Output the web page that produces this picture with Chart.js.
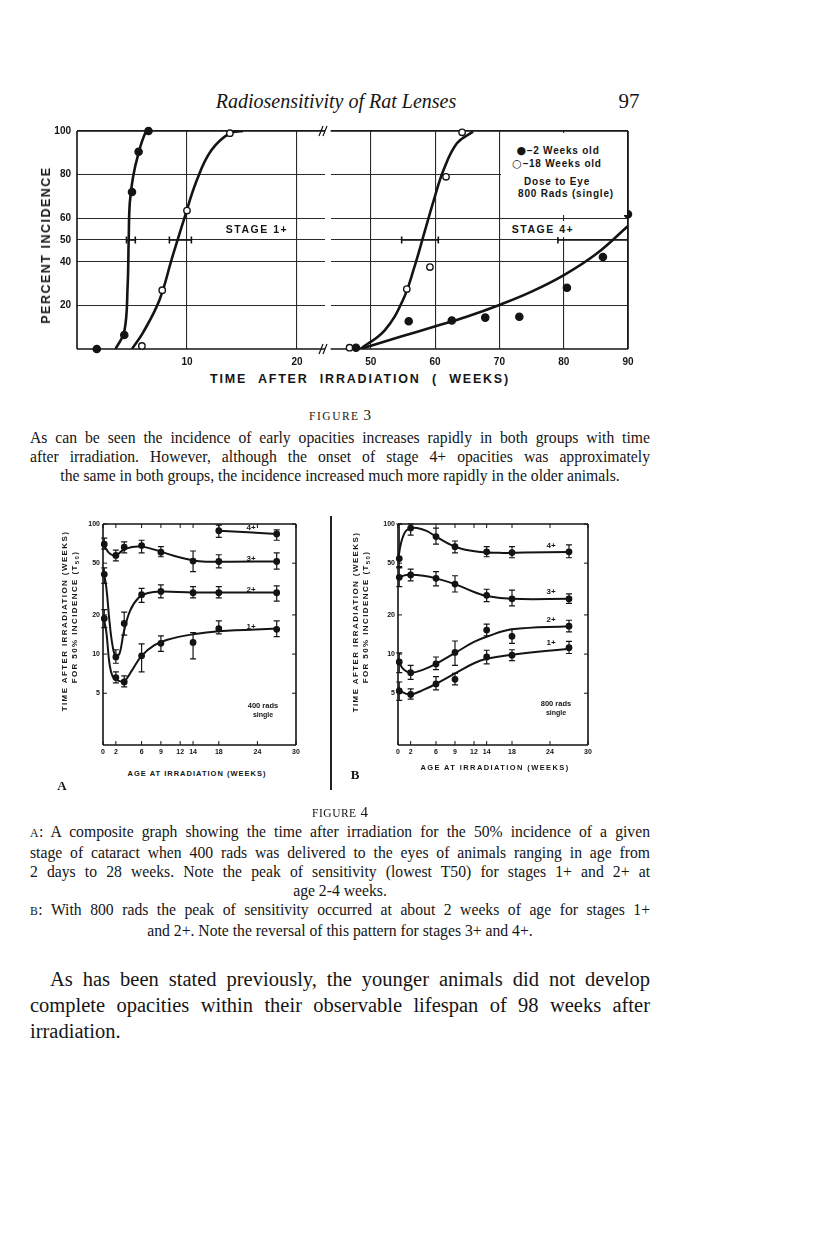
<!DOCTYPE html>
<html>
<head>
<meta charset="utf-8">
<title>Radiosensitivity of Rat Lenses</title>
<script src="https://cdn.jsdelivr.net/npm/chart.js@4.4.1/dist/chart.umd.min.js"></script>
<style>
body { margin: 0; background: #fff; }
#page { position: relative; width: 816px; height: 1246px; overflow: hidden; background: #fff; color: #151515; }
canvas { position: absolute; }
.t { position: absolute; white-space: nowrap; transform: translate(-50%, -50%); }
.v { position: absolute; white-space: nowrap; transform: translate(-50%, -50%) rotate(-90deg); }
.sans { font-family: "Liberation Sans", Arial, sans-serif; font-weight: bold; }
.serif { font-family: "Liberation Serif", "Times New Roman", serif; }
.para { position: absolute; left: 30px; width: 620px; font-family: "Liberation Serif", serif; }
.j { text-align: justify; text-align-last: justify; }
.m { text-align: center; }
.sc { font-size: 0.75em; letter-spacing: 0.5px; }
.dot { font-family: "DejaVu Sans", sans-serif; font-size: 11px; font-weight: normal; }
</style>
</head>
<body>
<div id="page">
  <div class="t serif" style="left:336px;top:101px;font-size:20px;font-style:italic;">Radiosensitivity of Rat Lenses</div>
  <div class="t serif" style="left:629px;top:101px;font-size:21px;">97</div>

  <canvas id="fig3a" width="315" height="248" style="left:20px;top:121px"></canvas>
  <canvas id="fig3b" width="315" height="248" style="left:325px;top:121px"></canvas>

  <div class="v sans" style="left:46px;top:245px;font-size:12.5px;letter-spacing:1.5px;">PERCENT INCIDENCE</div>
  <div class="t sans" style="left:360px;top:379px;font-size:12.5px;letter-spacing:1.8px;word-spacing:6px;">TIME AFTER IRRADIATION ( WEEKS)</div>
  <div class="t sans" style="left:257px;top:229px;font-size:10.5px;letter-spacing:1.5px;">STAGE 1+</div>
  <div class="t sans" style="left:543px;top:229px;font-size:10.5px;letter-spacing:1.5px;background:#fff;padding:2px 4px;">STAGE 4+</div>
  <div style="position:absolute;left:501px;top:133px;width:126px;height:82px;background:#fff;"></div>
  <div class="t sans" style="left:558px;top:150px;font-size:10px;letter-spacing:0.8px;"><span class="dot">●</span>–2 Weeks old</div>
  <div class="t sans" style="left:557px;top:163px;font-size:10px;letter-spacing:0.8px;"><span class="dot">○</span>–18 Weeks old</div>
  <div class="t sans" style="left:557px;top:181px;font-size:10px;letter-spacing:0.8px;">Dose to Eye</div>
  <div class="t sans" style="left:566px;top:193px;font-size:10px;letter-spacing:0.8px;">800 Rads (single)</div>

  <div class="t serif" style="left:340px;top:415px;font-size:15px;"><span style="font-size:11.5px;letter-spacing:1.5px;">FIGURE</span> 3</div>
  <div class="para" style="top:428px;font-size:15.7px;line-height:19px;">
    <div class="j">As can be seen the incidence of early opacities increases rapidly in both groups with time</div>
    <div class="j">after irradiation. However, although the onset of stage 4+ opacities was approximately</div>
    <div class="m">the same in both groups, the incidence increased much more rapidly in the older animals.</div>
  </div>

  <canvas id="fig4a" width="260" height="256" style="left:50px;top:512px"></canvas>
  <canvas id="fig4b" width="260" height="256" style="left:345px;top:512px"></canvas>
  <div style="position:absolute;left:330px;top:516px;width:1.5px;height:274px;background:#222;"></div>

  <div class="v sans" style="left:64px;top:621px;font-size:8px;letter-spacing:1.4px;">TIME AFTER IRRADIATION (WEEKS)</div>
  <div class="v sans" style="left:75px;top:617px;font-size:8px;letter-spacing:1.4px;">FOR 50% INCIDENCE (T<sub style="font-size:6px">50</sub>)</div>
  <div class="t sans" style="left:197px;top:773px;font-size:7.5px;letter-spacing:1px;">AGE AT IRRADIATION (WEEKS)</div>
  <div class="t serif" style="left:62px;top:786px;font-size:13px;font-weight:bold;">A</div>
  <div class="t sans" style="left:251px;top:527px;font-size:8px;">4+</div>
  <div class="t sans" style="left:251px;top:558px;font-size:8px;">3+</div>
  <div class="t sans" style="left:251px;top:589px;font-size:8px;">2+</div>
  <div class="t sans" style="left:251px;top:626px;font-size:8px;">1+</div>
  <div class="t sans" style="left:263px;top:705px;font-size:7.5px;">400 rads</div>
  <div class="t sans" style="left:263px;top:714px;font-size:7px;">single</div>

  <div class="v sans" style="left:355px;top:622px;font-size:8px;letter-spacing:1.4px;">TIME AFTER IRRADIATION (WEEKS)</div>
  <div class="v sans" style="left:366px;top:617px;font-size:8px;letter-spacing:1.4px;">FOR 50% INCIDENCE (T<sub style="font-size:6px">50</sub>)</div>
  <div class="t sans" style="left:495px;top:767px;font-size:7.5px;letter-spacing:1.4px;">AGE AT IRRADIATION (WEEKS)</div>
  <div class="t serif" style="left:355px;top:775px;font-size:13px;font-weight:bold;">B</div>
  <div class="t sans" style="left:551px;top:545px;font-size:8px;">4+</div>
  <div class="t sans" style="left:551px;top:591px;font-size:8px;">3+</div>
  <div class="t sans" style="left:551px;top:619px;font-size:8px;">2+</div>
  <div class="t sans" style="left:551px;top:642px;font-size:8px;">1+</div>
  <div class="t sans" style="left:556px;top:703px;font-size:7.5px;">800 rads</div>
  <div class="t sans" style="left:556px;top:712px;font-size:7px;">single</div>

  <div class="t serif" style="left:340px;top:812px;font-size:15px;"><span style="font-size:11.5px;letter-spacing:0.5px;">FIGURE</span> 4</div>
  <div class="para" style="top:822px;font-size:15.7px;line-height:19px;">
    <div class="j"><span class="sc">A</span>: A composite graph showing the time after irradiation for the 50% incidence of a given</div>
    <div class="j">stage of cataract when 400 rads was delivered to the eyes of animals ranging in age from</div>
    <div class="j">2 days to 28 weeks. Note the peak of sensitivity (lowest T50) for stages 1+ and 2+ at</div>
    <div class="m">age 2-4 weeks.</div>
    <div class="j"><span class="sc">B</span>: With 800 rads the peak of sensitivity occurred at about 2 weeks of age for stages 1+</div>
    <div class="m">and 2+. Note the reversal of this pattern for stages 3+ and 4+.</div>
  </div>

  <div class="para" style="top:966px;font-size:20.5px;line-height:26px;">
    <div class="j" style="padding-left:20px;">As has been stated previously, the younger animals did not develop</div>
    <div class="j">complete opacities within their observable lifespan of 98 weeks after</div>
    <div>irradiation.</div>
  </div>
</div>

<script>
// ---- Figure 3: percent incidence vs. weeks after 800 rads ----
const pctTicks = [20, 40, 50, 60, 80, 100];
const weeksTicksLeft = [10, 20];
const weeksTicksRight = [50, 60, 70, 80, 90];

// stage 1+ (left part of the broken axis)
const s1YoungPts = [[1.8, 0], [4.3, 6.4], [5.0, 72], [5.6, 90.5], [6.5, 100]];
const s1OldPts = [[5.9, 1.4], [7.75, 27], [10.0, 63.5], [13.9, 99]];
const s1YoungCurve = [[3.5, 0], [4.3, 8], [4.6, 28.6], [4.7, 50], [4.8, 67], [5.1, 79], [5.6, 90], [6.2, 99], [6.5, 100]];
const s1OldCurve = [[5.0, 0], [6.0, 7.5], [7.5, 22.5], [8.6, 41], [9.7, 59], [10.9, 77.5], [12.2, 91], [13.9, 99], [15.1, 100]];
const t50Young1 = [4.5, 5.3];
const t50Old1 = [8.4, 10.4];

// stage 4+ (right part)
const s4YoungPts = [[47.7, 0.6], [55.9, 12.7], [62.6, 13.1], [67.8, 14.4], [73.1, 14.8], [80.5, 28.1], [86.1, 42.2], [90, 61.8]];
const s4OldPts = [[46.7, 0.6], [55.6, 27.5], [59.2, 37.6], [61.7, 79], [64.2, 99.4]];
const s4YoungCurve = [[48.4, 0], [54.7, 5.7], [59.8, 10.2], [64.9, 14.8], [70, 20.2], [75, 26.3], [80.1, 34], [85.2, 43.9], [90, 56.4]];
const s4OldCurve = [[48.4, 0], [52.2, 8.7], [55.0, 22.5], [56.8, 37.8], [58.3, 53], [59.8, 68.3], [61.3, 82], [63.4, 94.4], [65.9, 99.7]];
const t50Old4 = [54.8, 60.5];
const t50Young4 = [79.1, 90];

// ---- Figure 4: T50 vs age at irradiation ----
const ageTicks = [0, 2, 6, 9, 12, 14, 18, 24, 30];
const t50Ticks = [5, 10, 20, 50, 100];

// A: 400 rads
const ageA = [0.2, 2, 3.3, 6, 9, 14, 18, 27];
const a1Plus = [18.8, 6.6, 6.1, 9.7, 12.1, 12.3, 15.7, 15.5];
const a1Lo = [16, 6.0, 5.6, 7.3, 10.5, 9.2, 14.3, 13.6];
const a1Hi = [22, 7.3, 6.8, 12, 13.8, 14.6, 18, 18];
const a2Plus = [41, 9.5, 17.2, 28.6, 30.3, 29.6, 29.6, 29.6];
const a2Lo = [35, 8.5, 14, 25, 27, 27, 27, 25.5];
const a2Hi = [46, 10.8, 21, 32, 34, 33, 33, 33.5];
const a3Plus = [70, 57.3, 66.3, 68.3, 60.7, 51.9, 51.5, 51.5];
const a3Lo = [64, 52, 60, 60, 56, 43, 46, 45];
const a3Hi = [78, 63, 73, 75, 67, 62, 58, 60];
const ageA4 = [18, 27];
const a4Plus = [88.9, 83.8];
const a4Lo = [79, 75];
const a4Hi = [98, 90];
const a1Curve = [[0, 20], [0.5, 15], [1, 8.5], [1.5, 6.7], [2.2, 6.3], [3.3, 6.2], [4.5, 7.5], [6, 9.7], [8, 11.7], [10, 12.9], [14, 14.2], [18, 15], [27, 15.7]];
const a2Curve = [[0, 45], [0.5, 33], [1, 18], [1.5, 11.5], [2, 9.6], [2.6, 10.2], [3.2, 14.5], [4.2, 21.5], [5.5, 27], [7, 29.5], [9, 30.3], [14, 29.8], [27, 29.8]];
const a3Curve = [[0, 73], [0.5, 64], [1.2, 58.5], [2, 57], [3, 62.5], [4.5, 66.5], [6, 67], [8, 63.5], [11, 57], [14, 52.5], [16, 51.3], [20, 51.3], [27, 51.5]];
const a4Curve = [[18, 88.9], [27, 83.8]];

// B: 800 rads
const ageB = [0.2, 2, 6, 9, 14, 18, 27];
const b1Plus = [5.2, 4.9, 5.9, 6.4, 9.5, 9.8, 11.2];
const b1Lo = [4.4, 4.5, 5.3, 5.8, 8.4, 8.9, 10.1];
const b1Hi = [6.1, 5.4, 6.7, 7.1, 10.7, 10.8, 12.5];
const b2Plus = [8.7, 7.2, 8.4, 10.3, 15.3, 13.7, 16.4];
const b2Lo = [7.2, 6.4, 7.6, 8.2, 13.8, 12.1, 14.8];
const b2Hi = [10.2, 8.2, 9.5, 12.6, 17, 15.5, 18.2];
const b3Plus = [38.9, 40.6, 38.2, 34.5, 28.3, 26.6, 26.6];
const b3Lo = [33, 36.5, 33.5, 30, 25.3, 23.5, 24.5];
const b3Hi = [46, 45, 43, 40, 31.5, 31, 29];
const b4Plus = [54.2, 93, 80, 66.9, 61.1, 60.3, 61.1];
const b4Lo = [47, 82, 70, 60, 56, 55, 55];
const b4Hi = [100, 100, 93, 74, 67, 67, 69];
const b1Curve = [[0, 5.6], [0.7, 5.1], [2, 4.9], [4, 5.3], [6, 5.9], [9, 7.1], [12, 8.5], [14, 9.2], [18, 9.9], [27, 11]];
const b2Curve = [[0, 9.2], [0.7, 7.8], [2, 7.2], [4, 7.6], [6, 8.4], [9, 10.2], [12, 12.4], [14, 13.6], [18, 15.5], [27, 16.4]];
const b3Curve = [[0, 38], [1, 40.3], [2, 40.8], [4, 40], [6, 38.2], [9, 34.5], [12, 30], [14, 28], [18, 26.6], [27, 26.6]];
const b4Curve = [[0, 52], [0.5, 72], [1.2, 88], [2, 93], [3, 93], [4.5, 88.5], [6, 80], [8, 70.5], [10, 64.5], [13, 61], [16, 60], [20, 60.4], [27, 61]];

const INK = '#141414';
const xy = arr => arr.map(([x, y]) => ({x, y}));
const zip = (xs, ys) => xs.map((x, i) => ({x, y: ys[i]}));

function curve(points, w) {
  return {data: xy(points), borderColor: INK, borderWidth: w, pointRadius: 0, tension: 0.4, fill: false};
}
function dots(data, filled, r) {
  return {data, showLine: false, pointRadius: r, pointBackgroundColor: filled ? INK : '#fff',
    pointBorderColor: INK, pointBorderWidth: 1.4, clip: false};
}
function t50Bar(range) {
  return {data: range.map(x => ({x, y: 50})), borderColor: INK, borderWidth: 1.6, pointStyle: 'line',
    pointRotation: 90, pointRadius: 3.5, pointBorderWidth: 1.6, pointBorderColor: INK};
}
function noPad(s) { s.paddingTop = s.paddingBottom = s.paddingLeft = s.paddingRight = 0; }

function frame(opts) {
  return {
    id: 'frame',
    beforeDatasetsDraw(chart) {
      const {ctx, chartArea: a, scales} = chart;
      ctx.save();
      ctx.strokeStyle = INK;
      ctx.lineWidth = opts.width;
      ctx.beginPath();
      if (opts.sides.includes('l')) { ctx.moveTo(a.left, a.top); ctx.lineTo(a.left, a.bottom); }
      if (opts.sides.includes('r')) { ctx.moveTo(a.right, a.top); ctx.lineTo(a.right, a.bottom); }
      if (opts.sides.includes('t')) { ctx.moveTo(a.left, a.top); ctx.lineTo(a.right, a.top); }
      if (opts.sides.includes('b')) { ctx.moveTo(a.left, a.bottom); ctx.lineTo(a.right, a.bottom); }
      ctx.stroke();
      if (opts.inTicks) {
        ctx.lineWidth = 1;
        ctx.beginPath();
        scales.x.ticks.forEach(t => {
          const px = scales.x.getPixelForValue(t.value);
          ctx.moveTo(px, a.bottom); ctx.lineTo(px, a.bottom - opts.inTicks);
          ctx.moveTo(px, a.top); ctx.lineTo(px, a.top + opts.inTicks);
        });
        scales.y.ticks.forEach(t => {
          const py = scales.y.getPixelForValue(t.value);
          ctx.moveTo(a.left, py); ctx.lineTo(a.left + opts.inTicks, py);
          ctx.moveTo(a.right, py); ctx.lineTo(a.right - opts.inTicks, py);
        });
        ctx.stroke();
      }
      if (opts.breakRight) {
        // the "//" marks of the broken time axis
        ctx.lineWidth = 1.2;
        ctx.beginPath();
        [a.top, a.bottom].forEach(yy => {
          ctx.moveTo(a.right - 6, yy + 5); ctx.lineTo(a.right - 2, yy - 5);
          ctx.moveTo(a.right - 2, yy + 5); ctx.lineTo(a.right + 2, yy - 5);
        });
        ctx.stroke();
      }
      ctx.restore();
    }
  };
}

function errorBars(sets) {
  return {
    id: 'errorBars',
    afterDatasetsDraw(chart) {
      const {ctx, scales: {x, y}} = chart;
      ctx.save();
      ctx.strokeStyle = INK;
      ctx.lineWidth = 1.2;
      ctx.beginPath();
      sets.forEach(s => s.age.forEach((age, i) => {
        const px = x.getPixelForValue(age);
        const top = y.getPixelForValue(s.hi[i]);
        const bot = y.getPixelForValue(s.lo[i]);
        ctx.moveTo(px, top); ctx.lineTo(px, bot);
        ctx.moveTo(px - 3, top); ctx.lineTo(px + 3, top);
        ctx.moveTo(px - 3, bot); ctx.lineTo(px + 3, bot);
      }));
      ctx.stroke();
      ctx.restore();
    }
  };
}

const font3 = {family: '"Liberation Sans", Arial, sans-serif', weight: 'bold', size: 10};
const grid3 = {color: '#2a2a2a', lineWidth: 1.1, drawTicks: false};

function fig3(id, xMin, xMax, xTicks, showY, padRight, datasets, frameOpts) {
  return new Chart(document.getElementById(id), {
    type: 'line',
    data: {datasets},
    options: {
      responsive: false, animation: false, events: [],
      layout: {padding: {top: 10, right: padRight, left: 0, bottom: 0}},
      plugins: {legend: {display: false}, tooltip: {enabled: false}},
      scales: {
        x: {type: 'linear', min: xMin, max: xMax, grid: grid3, border: {display: false},
          afterBuildTicks: s => { s.ticks = xTicks.map(value => ({value})); },
          afterFit: s => { s.height = 20; noPad(s); },
          ticks: {font: font3, color: INK, padding: 7, autoSkip: false, maxRotation: 0}},
        y: {min: 0, max: 100, grid: grid3, border: {display: false},
          afterBuildTicks: s => { s.ticks = pctTicks.map(value => ({value})); },
          afterFit: s => { s.width = showY ? 57 : 0; noPad(s); },
          ticks: {display: showY, font: font3, color: INK, padding: 6}}
      }
    },
    plugins: [frame(frameOpts)]
  });
}

fig3('fig3a', 0, 22.55, weeksTicksLeft, true, 10, [
  dots(xy(s1YoungPts), true, 3.6), dots(xy(s1OldPts), false, 3.2),
  t50Bar(t50Young1), t50Bar(t50Old1),
  curve(s1YoungCurve, 2.6), curve(s1OldCurve, 2.6)
], {sides: 'ltb', width: 1.6, breakRight: true});

fig3('fig3b', 43.75, 90, weeksTicksRight, false, 12, [
  dots(xy(s4YoungPts), true, 3.6), dots(xy(s4OldPts), false, 3.2),
  t50Bar(t50Old4), t50Bar(t50Young4),
  curve(s4YoungCurve, 2.6), curve(s4OldCurve, 2.6)
], {sides: 'trb', width: 1.6});

const font4 = {family: '"Liberation Sans", Arial, sans-serif', weight: 'bold', size: 7};

function fig4(id, padRight, curves, points, bars) {
  return new Chart(document.getElementById(id), {
    type: 'line',
    data: {datasets: [...points.map(p => dots(p, true, 2.7)), ...curves.map(c => curve(c, 2))]},
    options: {
      responsive: false, animation: false, events: [],
      layout: {padding: {top: 12, right: padRight, left: 0, bottom: 0}},
      plugins: {legend: {display: false}, tooltip: {enabled: false}},
      scales: {
        x: {type: 'linear', min: 0, max: 30, grid: {display: false, drawTicks: false}, border: {display: false},
          afterBuildTicks: s => { s.ticks = ageTicks.map(value => ({value})); },
          afterFit: s => { s.height = 23; noPad(s); },
          ticks: {font: font4, color: INK, padding: 3, autoSkip: false, maxRotation: 0}},
        y: {type: 'logarithmic', min: 2, max: 100, grid: {display: false, drawTicks: false}, border: {display: false},
          afterBuildTicks: s => { s.ticks = t50Ticks.map(value => ({value})); },
          afterFit: s => { s.width = 53; noPad(s); },
          ticks: {font: font4, color: INK, padding: 3, callback: v => String(v)}}
      }
    },
    plugins: [frame({sides: 'ltrb', width: 1.6, inTicks: 4}), errorBars(bars)]
  });
}

fig4('fig4a', 14,
  [a1Curve, a2Curve, a3Curve, a4Curve],
  [zip(ageA, a1Plus), zip(ageA, a2Plus), zip(ageA, a3Plus), zip(ageA4, a4Plus)],
  [{age: ageA, lo: a1Lo, hi: a1Hi}, {age: ageA, lo: a2Lo, hi: a2Hi},
   {age: ageA, lo: a3Lo, hi: a3Hi}, {age: ageA4, lo: a4Lo, hi: a4Hi}]);

fig4('fig4b', 17,
  [b1Curve, b2Curve, b3Curve, b4Curve],
  [zip(ageB, b1Plus), zip(ageB, b2Plus), zip(ageB, b3Plus), zip(ageB, b4Plus)],
  [{age: ageB, lo: b1Lo, hi: b1Hi}, {age: ageB, lo: b2Lo, hi: b2Hi},
   {age: ageB, lo: b3Lo, hi: b3Hi}, {age: ageB, lo: b4Lo, hi: b4Hi}]);
</script>
</body>
</html>
